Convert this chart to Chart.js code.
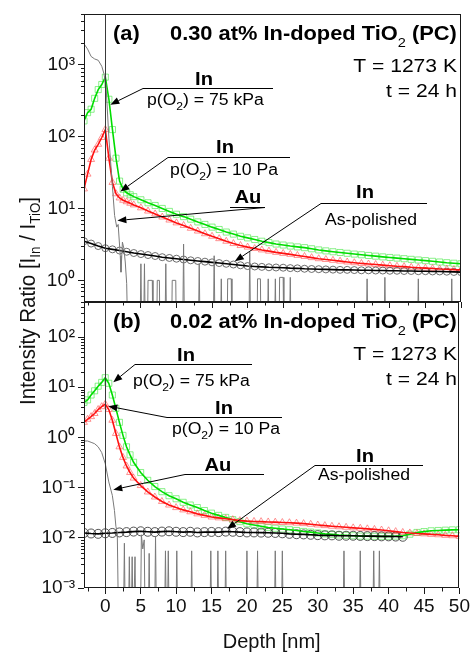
<!DOCTYPE html>
<html><head><meta charset="utf-8">
<script src="https://cdn.jsdelivr.net/npm/chart.js@4.4.1/dist/chart.umd.min.js"></script>
<style>
html,body{margin:0;padding:0;background:#fff}
body{width:471px;height:652px;overflow:hidden;position:relative}
#top{position:absolute;left:0;top:0;width:471px;height:318px}
#bot{position:absolute;left:0;top:0;width:471px;height:652px}
</style></head>
<body>
<div id="top"><canvas id="c1"></canvas></div>
<div id="bot"><canvas id="c2"></canvas></div>
<script>
// ---------------- DATA ----------------
const xMajor = [0,5,10,15,20,25,30,35,40,45,50];
const xMinor = [-2.5,2.5,7.5,12.5,17.5,22.5,27.5,32.5,37.5,42.5,47.5];
const decadesA = [1,10,100,1000];
const decadesB = [0.001,0.01,0.1,1,10,100];

// (a) 0.30 at% In-doped TiO2
const depthA = [-3,-2.5,-2,-1.5,-1,-0.5,0,0.5,1,1.5,2,2.5,3,3.5,4,
  5,6,7,8,9,10,11,12,13,14,15,16,17,18,19,20,
  21,22,23,24,25,26,27,28,29,30,31,32,33,34,35,36,37,38,39,40,41,42,43,44,45,46,47,48,49,50];
const greenA = [165,215,240,340,450,530,670,330,125,50,24,18.5,16.5,15.5,14.6,
  13.2,12,11,10,9.1,8.3,7.7,7.1,6.5,6,5.5,5.1,4.7,4.4,4.1,3.9,
  3.7,3.5,3.35,3.2,3.1,3.0,2.92,2.85,2.75,2.65,2.57,2.5,2.44,2.38,2.32,
  2.27,2.22,2.17,2.12,2.08,2.04,2.0,1.96,1.92,1.88,1.84,1.8,1.76,1.73,1.7];
const redA = [18.7,30,48,65,78,97,125,50,23,16,14,13,12.4,11.8,11.2,
  10.2,9.2,8.4,7.6,6.9,6.3,5.8,5.3,4.85,4.45,4.1,3.8,3.5,3.25,3.05,2.9,
  2.77,2.65,2.55,2.45,2.37,2.3,2.22,2.15,2.07,2.0,1.95,1.9,1.85,1.8,1.76,
  1.72,1.69,1.66,1.63,1.6,1.57,1.55,1.52,1.5,1.48,1.46,1.44,1.43,1.41,1.4];
const depthBkA = [-3,-2,-1,0,1,2,3,4,5,6,7,8,9,10,11,12,13,14,15,16,17,18,19,20,
  21,22,23,24,25,26,27,28,29,30,31,32,33,34,35,36,37,38,39,40,41,42,43,44,45,46,47,48,49,50];
const blackA = [3.5,3.25,3.0,2.8,2.7,2.6,2.5,2.4,2.32,2.25,2.18,2.1,2.05,2.0,1.95,1.9,1.86,1.82,1.78,1.74,1.7,1.66,1.62,1.58,
  1.56,1.54,1.52,1.51,1.5,1.48,1.47,1.45,1.44,1.43,1.42,1.41,1.4,1.4,1.39,1.38,1.38,1.37,1.37,1.36,1.36,1.35,1.35,1.34,1.34,1.33,1.33,1.32,1.31,1.3];
const auDepthA = [-3,-2.5,-2,-1.5,-1,-0.5,-0.2,0.1,0.5,1.0,1.3,1.6,1.8,2.1,2.2,2.4,2.6,2.8,3.0,3.2,
  4.85,5.0,5.15, 5.35,5.5,5.65, 5.9,6.0,6.6,6.7, 7.2,7.3,7.6,7.7, 8.35,8.5,8.65, 9.3,9.4,9.9,10.0,
  10.85,11.0,11.15, 13.05,13.2,13.35, 15.15,15.3,15.45, 16.15,16.3,16.45, 17.1,17.2,17.7,17.8,
  20.15,20.3,20.45, 21.3,21.4,21.8,21.9, 22.75,22.9,23.05, 23.75,23.9,24.05, 24.4,24.5,25.0,25.1,
  25.85,26.0,26.15, 36.65,36.8,36.95, 39.15,39.3,39.45, 43.85,44.0,44.15, 48.55,48.7,48.85, 50];
const auValA = [1950,1650,1300,1200,1150,950,750,500,95,20,8,5.5,6,2.2,1.3,3.4,2.8,1.8,0.9,0.1,
  0.1,1.7,0.1, 0.1,1.7,0.1, 0.1,1,1,0.1, 0.1,1,1,0.1, 0.1,1.7,0.1, 0.1,1,1,0.1,
  0.1,3.2,0.1, 0.1,1.7,0.1, 0.1,2.2,0.1, 0.1,1.05,0.1, 0.1,1.05,1.05,0.1,
  0.1,2.5,0.1, 0.1,1.05,1.05,0.1, 0.1,1.05,0.1, 0.1,1.05,0.1, 0.1,1.1,1.1,0.1,
  0.1,1.1,0.1, 0.1,1.05,0.1, 0.1,1.1,0.1, 0.1,1.05,0.1, 0.1,1.05,0.1, 0.1];

// (b) 0.02 at% In-doped TiO2
const depthB = [-3,-2.5,-2,-1.5,-1,-0.5,0,0.5,1,1.5,2,2.5,3,3.5,4,
  5,6,7,8,9,10,11,12,13,14,15,16,17,18,19,20,
  21,22,23,24,25,26,27,28,29,30,31,32,33,34,35,36,37,38,39,40,41,42,43,44,45,46,47,48,49,50];
const greenB = [5.0,5.6,7.0,8.5,10.5,12.5,15.5,12,7,3.8,2.0,1.1,0.65,0.45,0.32,
  0.2,0.14,0.105,0.083,0.069,0.06,0.051,0.045,0.04,0.035,0.031,0.028,0.0255,0.023,0.021,0.019,
  0.018,0.017,0.016,0.0155,0.015,0.0145,0.014,0.0134,0.013,0.0125,0.012,0.0117,0.0114,0.0112,0.011,
  0.0108,0.0108,0.0107,0.0107,0.0107,0.0108,0.011,0.0118,0.0128,0.0133,0.0138,0.014,0.0142,0.0144,0.0145];
const redB = [2.0,2.3,2.6,3.0,3.6,4.1,4.6,3.6,2.2,1.2,0.65,0.4,0.27,0.2,0.155,
  0.11,0.082,0.065,0.053,0.045,0.04,0.036,0.033,0.03,0.028,0.026,0.025,0.024,0.023,0.022,0.0215,
  0.0212,0.021,0.0207,0.0205,0.0202,0.02,0.0196,0.0192,0.0186,0.018,0.0175,0.017,0.0166,0.0162,0.0158,
  0.0155,0.0151,0.0147,0.0143,0.0138,0.0133,0.0128,0.0125,0.0122,0.012,0.0117,0.0115,0.0112,0.011,0.0107];
const depthBkB = [-3,-2,-1,0,1,2,3,4,5,6,7,8,9,10,11,12,13,14,15,16,17,18,19,20,
  21,22,23,24,25,26,27,28,29,30,31,32,33,34,35,36,37,38,39,40,41,42];
const blackB = [0.0125,0.0122,0.012,0.0123,0.0125,0.0128,0.013,0.0133,0.0135,0.0132,0.013,0.0133,0.0135,0.0132,0.013,0.0132,0.0128,0.013,0.0131,0.013,0.0133,0.0132,0.013,0.0128,
  0.0128,0.0127,0.0126,0.0125,0.0123,0.012,0.0118,0.0117,0.0115,0.0113,0.0112,0.0112,0.011,0.011,0.011,0.0109,0.0108,0.0108,0.0107,0.0107,0.0106,0.0105];
const auDepthB = [-3,-2.5,-2,-1.5,-1,-0.5,0,0.5,1.0,1.3,1.5,1.7,1.9,
  2.55,2.7,2.85, 3.25,3.4,3.55, 3.65,3.8,3.95, 4.05,4.2,4.35, 4.95,5.1,5.3,5.5,5.65, 6.05,6.2,6.35, 6.95,7.1,7.25,
  8.35,8.5,8.65, 8.75,8.9,9.05, 9.95,10.1,10.25, 12.05,12.2,12.35, 14.75,14.9,15.05, 15.75,15.9,16.05,
  16.85,17.0,17.15, 19.85,20.0,20.15, 21.35,21.5,21.65, 23.85,24.0,24.15, 24.85,25.0,25.15,
  33.55,33.7,33.85, 35.85,36.0,36.15, 37.75,37.9,38.05, 38.55,38.7,38.85, 42];
const auValB = [0.85,0.85,0.8,0.75,0.65,0.5,0.3,0.13,0.07,0.035,0.017,0.0125,0.0001,
  0.0001,0.0078,0.0001, 0.0001,0.0042,0.0001, 0.0001,0.0042,0.0001, 0.0001,0.0042,0.0001, 0.0001,0.0115,0.006,0.0091,0.0001, 0.0001,0.0049,0.0001, 0.0001,0.0107,0.0001,
  0.0001,0.0055,0.0001, 0.0001,0.0055,0.0001, 0.0001,0.0055,0.0001, 0.0001,0.0055,0.0001, 0.0001,0.0055,0.0001, 0.0001,0.0055,0.0001,
  0.0001,0.0055,0.0001, 0.0001,0.0055,0.0001, 0.0001,0.0055,0.0001, 0.0001,0.0055,0.0001, 0.0001,0.0055,0.0001,
  0.0001,0.0055,0.0001, 0.0001,0.0055,0.0001, 0.0001,0.0055,0.0001, 0.0001,0.0055,0.0001, 0.0001];

// ---------------- RENDERING ----------------
const FONT = '"Liberation Sans", Arial, Helvetica, sans-serif';
Chart.defaults.font.family = FONT;
Chart.defaults.color = '#000';
const SUP = {'-':'\u207B','0':'\u2070','1':'\u00B9','2':'\u00B2','3':'\u00B3'};
function decadeLabel(v){ const e = Math.round(Math.log10(v)); return '10' + String(e).split('').map(c => SUP[c]).join(''); }
function pts(xs, ys){ return xs.map((x, i) => ({x: x, y: ys[i]})); }
function lineDS(xs, ys, color, w, order){
  return {data: pts(xs, ys), borderColor: color, borderWidth: w, pointRadius: 0, fill: false, tension: 0, order: order};
}
function markDS(xs, ys, color, style, r, order){
  return {data: pts(xs, ys), showLine: false, pointStyle: style, pointRadius: r, pointBorderColor: color,
    pointBackgroundColor: 'rgba(0,0,0,0)', pointBorderWidth: 1, borderColor: color, order: order};
}
const T = (t, s, b, dy) => ({t: t, s: s, b: !!b, dy: dy || 0});
const pO2 = s => [T('p(O', 16), T('2', 11, 0, 5), T(') = ' + s, 16)];

function measureParts(ctx, parts){
  let w = 0;
  parts.forEach(p => { ctx.font = (p.b ? 'bold ' : '') + p.s + 'px ' + FONT; p._w = ctx.measureText(p.t).width; w += p._w; });
  return w;
}
function drawParts(ctx, x, y, parts, align, sx){
  const w = measureParts(ctx, parts);
  const start = align === 'center' ? x - w * sx / 2 : align === 'right' ? x - w * sx : x;
  ctx.save(); ctx.translate(start, y); ctx.scale(sx, 1);
  ctx.textBaseline = 'alphabetic'; ctx.textAlign = 'left';
  let cx = 0;
  parts.forEach(p => { ctx.font = (p.b ? 'bold ' : '') + p.s + 'px ' + FONT; ctx.fillText(p.t, cx, p.dy); cx += p._w; });
  ctx.restore();
}
function arrow(ctx, x1, y1, x2, y2){
  const ang = Math.atan2(y2 - y1, x2 - x1), L = 9, W = 3.5;
  const bx = x2 - L * Math.cos(ang), by = y2 - L * Math.sin(ang);
  ctx.beginPath(); ctx.moveTo(x1, y1); ctx.lineTo(bx, by); ctx.stroke();
  ctx.beginPath(); ctx.moveTo(x2, y2);
  ctx.lineTo(bx - W * Math.sin(ang), by + W * Math.cos(ang));
  ctx.lineTo(bx + W * Math.sin(ang), by - W * Math.cos(ang));
  ctx.closePath(); ctx.fill();
}

const deco = {
  id: 'deco',
  afterDatasetsDraw(chart, args, o){
    const {ctx, chartArea: a, scales: {x, y}} = chart;
    const px = v => x.getPixelForValue(v), py = v => y.getPixelForValue(v);
    ctx.save();
    ctx.lineWidth = 1;
    ctx.strokeStyle = '#3a3a3a';
    const x0 = Math.round(px(0)) + 0.5;
    ctx.beginPath(); ctx.moveTo(x0, a.top); ctx.lineTo(x0, a.bottom); ctx.stroke();
    ctx.strokeStyle = '#1a1a1a';
    const L = Math.round(a.left) + 0.5, Tp = Math.round(a.top) + 0.5, R = Math.round(a.right) - 0.5, B = Math.round(a.bottom) - 0.5;
    ctx.strokeRect(L, Tp, R - L, B - Tp);
    ctx.beginPath();
    xMinor.forEach(v => { const X = Math.round(px(v)) + 0.5; ctx.moveTo(X, B); ctx.lineTo(X, B + 4); });
    for (let e = -4; e <= 4; e++) for (let k = 2; k <= 9; k++) {
      const v = k * Math.pow(10, e);
      if (v < y.min || v > y.max) continue;
      const Y = Math.round(py(v)) + 0.5; ctx.moveTo(L - 3.5, Y); ctx.lineTo(L, Y);
    }
    ctx.stroke();
    ctx.fillStyle = '#000'; ctx.strokeStyle = '#000';
    o.items.forEach(it => {
      if (it.k === 't') drawParts(ctx, it.x, it.y, it.p, it.al || 'left', it.sx || 1.1);
      else if (it.k === 'l') { ctx.beginPath(); ctx.moveTo(it.x1, it.y1 + 0.5); ctx.lineTo(it.x2, it.y2 + 0.5); ctx.stroke(); }
      else if (it.k === 'a') arrow(ctx, it.x1, it.y1 + 0.5, px(it.tx), py(it.ty));
    });
    if (o.ytitle) {
      const t = o.ytitle;
      ctx.save();
      ctx.fillStyle = '#111';
      ctx.translate(t.x, t.y);
      ctx.rotate(-Math.PI / 2);
      ctx.scale(1, 1.08);
      const w = measureParts(ctx, t.p);
      drawParts(ctx, 0, 6, t.p, 'center', t.len / w);
      ctx.restore();
    }
    ctx.restore();
  }
};

const itemsA = [
  {k:'t', x:113, y:40, p:[T('(a)', 19.5, 1)], sx:1.12},
  {k:'t', x:170, y:40, p:[T('0.30 at% In-doped TiO', 19.5, 1), T('2', 13, 0, 7), T(' (PC)', 19.5, 1)], sx:1.12},
  {k:'t', x:457, y:71.5, al:'right', p:[T('T = 1273 K', 19)], sx:1.11},
  {k:'t', x:457, y:96.5, al:'right', p:[T('t = 24 h', 19)], sx:1.11},
  {k:'t', x:204, y:85, al:'center', p:[T('In', 18, 1)], sx:1.12},
  {k:'l', x1:143, y1:88, x2:273, y2:88},
  {k:'t', x:147, y:105, p:pO2('75 kPa')},
  {k:'a', x1:143, y1:88, tx:0.70, ty:278},
  {k:'t', x:225, y:153, al:'center', p:[T('In', 18, 1)], sx:1.12},
  {k:'l', x1:168, y1:157, x2:290, y2:157},
  {k:'t', x:170, y:175, p:pO2('10 Pa')},
  {k:'a', x1:168, y1:157, tx:2.11, ty:17.2},
  {k:'t', x:248, y:203, al:'center', p:[T('Au', 18, 1)], sx:1.12},
  {k:'l', x1:230, y1:207, x2:265, y2:207},
  {k:'a', x1:265, y1:207, tx:1.69, ty:6.8},
  {k:'t', x:365, y:198, al:'center', p:[T('In', 18, 1)], sx:1.12},
  {k:'l', x1:321, y1:203, x2:427, y2:203},
  {k:'t', x:325, y:225, p:[T('As-polished', 16)]},
  {k:'a', x1:321, y1:203, tx:18.2, ty:1.84}
];
const itemsB = [
  {k:'t', x:113, y:328, p:[T('(b)', 19.5, 1)], sx:1.12},
  {k:'t', x:170, y:328, p:[T('0.02 at% In-doped TiO', 19.5, 1), T('2', 13, 0, 7), T(' (PC)', 19.5, 1)], sx:1.12},
  {k:'t', x:457, y:360, al:'right', p:[T('T = 1273 K', 19)], sx:1.11},
  {k:'t', x:457, y:385, al:'right', p:[T('t = 24 h', 19)], sx:1.11},
  {k:'t', x:186, y:361, al:'center', p:[T('In', 18, 1)], sx:1.12},
  {k:'l', x1:135, y1:364, x2:252, y2:364},
  {k:'t', x:133, y:386, p:pO2('75 kPa')},
  {k:'a', x1:135, y1:364, tx:1.13, ty:12.6},
  {k:'t', x:224, y:414, al:'center', p:[T('In', 18, 1)], sx:1.12},
  {k:'l', x1:167, y1:417, x2:282, y2:417},
  {k:'t', x:172, y:434, p:pO2('10 Pa')},
  {k:'a', x1:167, y1:417, tx:0.42, ty:4.2},
  {k:'t', x:218, y:471, al:'center', p:[T('Au', 18, 1)], sx:1.12},
  {k:'l', x1:185, y1:474, x2:264, y2:474},
  {k:'a', x1:185, y1:474, tx:1.13, ty:0.091},
  {k:'t', x:365, y:462, al:'center', p:[T('In', 18, 1)], sx:1.12},
  {k:'l', x1:315, y1:465, x2:423, y2:465},
  {k:'t', x:318, y:480, p:[T('As-polished', 16)]},
  {k:'a', x1:315, y1:465, tx:17.2, ty:0.0151}
];
const yTitle = {x: 29, y: 301, len: 208, p: [T('Intensity Ratio [I', 20), T('In', 13, 0, 4), T(' / I', 20), T('TiO', 13, 0, 4), T(']', 20)]};

function makePanel(id, cfg){
  const grid = {display: true, drawOnChartArea: false, drawTicks: true, tickLength: 6, tickColor: '#1a1a1a', tickWidth: 1};
  return new Chart(document.getElementById(id), {
    type: 'line',
    data: {datasets: cfg.datasets},
    plugins: [deco],
    options: {
      responsive: true, maintainAspectRatio: false, animation: false, devicePixelRatio: 1,
      layout: {padding: {top: cfg.padTop, right: 10, left: 0, bottom: 0}, autoPadding: false},
      plugins: {legend: {display: false}, tooltip: {enabled: false}, deco: {items: cfg.items, ytitle: cfg.ytitle}},
      elements: {line: {tension: 0}},
      scales: {
        x: {
          type: 'linear', min: -3, max: 50,
          afterBuildTicks: s => { s.ticks = xMajor.map(v => ({value: v})); },
          afterFit: s => { s.height = cfg.xHeight; },
          ticks: {display: cfg.xLabels, font: {size: 19}, padding: 1, maxRotation: 0, autoSkip: false, color: '#111', callback: v => String(v)},
          grid: grid, border: {display: false},
          title: {display: cfg.xLabels, text: 'Depth [nm]', font: {size: 20, lineHeight: 1}, color: '#111', padding: {top: 0, bottom: 0}}
        },
        y: {
          type: 'logarithmic', min: cfg.ymin, max: cfg.ymax,
          afterBuildTicks: s => { s.ticks = cfg.decades.map(v => ({value: v, major: true})); },
          afterFit: s => { s.width = 84; },
          ticks: {font: {size: 19}, padding: 3, autoSkip: false, color: '#111', callback: v => decadeLabel(v)},
          grid: grid, border: {display: false}
        }
      }
    }
  });
}

makePanel('c1', {
  padTop: 14, xHeight: 16, xLabels: false, ymin: 0.5, ymax: 5000, decades: decadesA, items: itemsA, ytitle: null,
  datasets: [
    lineDS(auDepthA, auValA, '#7a7a7a', 1, 0),
    lineDS(depthBkA, blackA, '#000000', 1.6, 1),
    lineDS(depthA, redA, '#ff1010', 1.6, 1),
    lineDS(depthA, greenA, '#00dd00', 1.6, 1),
    markDS(depthBkA, blackA, 'rgba(75,75,75,0.8)', 'circle', 3.5, 2),
    markDS(depthA, redA, 'rgba(255,90,90,0.65)', 'triangle', 4, 2),
    markDS(depthA, greenA, 'rgba(60,230,60,0.6)', 'rect', 4.3, 2)
  ]
});
makePanel('c2', {
  padTop: 302, xHeight: 64, xLabels: true, ymin: 0.001, ymax: 500, decades: decadesB, items: itemsB, ytitle: yTitle,
  datasets: [
    lineDS(auDepthB, auValB, '#7a7a7a', 1, 0),
    lineDS(depthBkB, blackB, '#000000', 1.6, 1),
    lineDS(depthB, redB, '#ff1010', 1.6, 1),
    lineDS(depthB, greenB, '#00dd00', 1.6, 1),
    markDS(depthBkB, blackB, 'rgba(55,55,55,0.85)', 'circle', 4.5, 2),
    markDS(depthB, redB, 'rgba(255,90,90,0.65)', 'triangle', 4, 2),
    markDS(depthB, greenB, 'rgba(60,230,60,0.6)', 'rect', 4.3, 2)
  ]
});
</script>
</body></html>
